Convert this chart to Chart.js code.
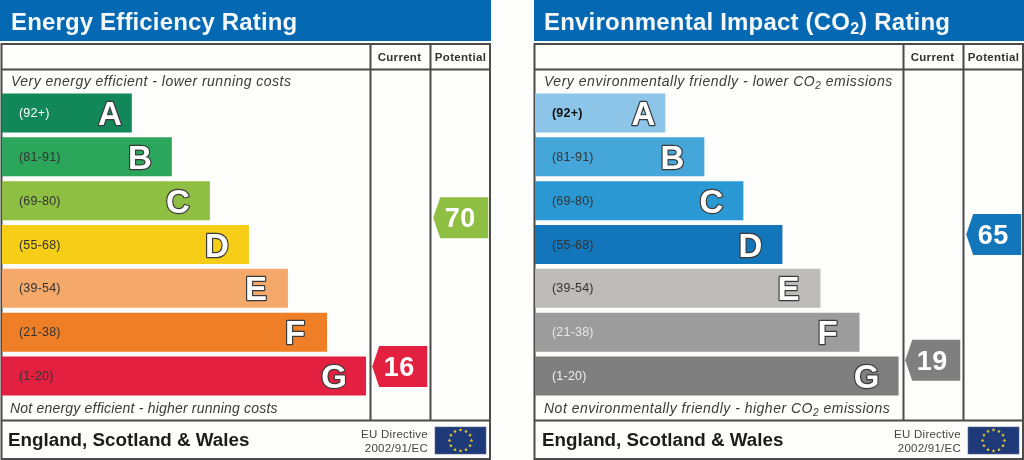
<!DOCTYPE html>
<html>
<head>
<meta charset="utf-8">
<title>EPC ratings</title>
<script src="https://cdn.jsdelivr.net/npm/chart.js@4/dist/chart.umd.min.js"></script>
<style>
  html, body { margin: 0; padding: 0; background: #fdfdfc; width: 1024px; height: 460px; overflow: hidden; }
  canvas { position: absolute; top: 0; }
  #energyChart { left: 0; }
  #enviroChart { left: 533px; }
</style>
</head>
<body>
<canvas id="energyChart" width="491" height="460"></canvas>
<canvas id="enviroChart" width="491" height="460"></canvas>
<script>
// Bands, top to bottom
const bands = ['A', 'B', 'C', 'D', 'E', 'F', 'G'];
const bandRanges = ['(92+)', '(81-91)', '(69-80)', '(55-68)', '(39-54)', '(21-38)', '(1-20)'];

// Bar lengths (percent of panel width)
const energyLengths = [26.6, 34.8, 42.6, 50.6, 58.6, 66.6, 74.6];
const enviroLengths = [26.7, 34.7, 42.7, 50.7, 58.5, 66.5, 74.5];

const energyColors = ['#12885a', '#2ba65b', '#8fbf42', '#f6ce17', '#f4a96b', '#ee7f26', '#e3203f'];
const enviroColors = ['#8cc5e8', '#45a6da', '#2a99d3', '#1376bb', '#bdbcba', '#9c9c9c', '#7f7f7f'];
const energyLabelColors = ['#ffffff', '#333333', '#333333', '#333333', '#333333', '#333333', '#333333'];
const enviroLabelColors = ['#111111', '#333333', '#333333', '#333333', '#333333', '#e6e6e6', '#eeeeee'];

// Current and potential scores
const energyScores = [16, 70];
const enviroScores = [19, 65];
const energyLevels = [0.22, 3.61]; // height on the band ladder, G = 0, A = 6
const enviroLevels = [0.36, 3.23];
const energyScoreColors = ['#e3203f', '#8fbf42'];
const enviroScoreColors = ['#7f7f7f', '#1376bb'];
const columnCentres = [81.5, 94];

const columnNames = ['Current', 'Potential'];

function drawText(ctx, text, x, y, font, color, align, spacing) {
  ctx.font = font;
  ctx.fillStyle = color;
  ctx.textAlign = align || 'left';
  ctx.textBaseline = 'alphabetic';
  ctx.letterSpacing = (spacing || 0) + 'px';
  ctx.fillText(text, x, y);
  ctx.letterSpacing = '0px';
}

// Draws text where "2" after CO goes subscript
function drawCO2Text(ctx, parts, x, y, font, subFont, color, spacing, subDrop) {
  let pos = x;
  parts.forEach((part, i) => {
    const sub = i % 2 === 1;
    ctx.font = sub ? subFont : font;
    ctx.letterSpacing = spacing + 'px';
    ctx.textAlign = 'left';
    ctx.fillStyle = color;
    ctx.fillText(part, pos, sub ? y + subDrop : y);
    pos += ctx.measureText(part).width;
  });
  ctx.letterSpacing = '0px';
}

function drawFlag(ctx) {
  ctx.fillStyle = '#1f3a78';
  ctx.fillRect(435, 427, 51, 27);
  ctx.strokeStyle = '#5a6a8c';
  ctx.lineWidth = 0.6;
  ctx.strokeRect(435, 427, 51, 27);
  ctx.fillStyle = '#f2d32a';
  for (let i = 0; i < 12; i++) {
    const a = i * Math.PI / 6;
    const cx = 460.5 + Math.cos(a) * 11;
    const cy = 440.5 + Math.sin(a) * 10.5;
    ctx.beginPath();
    for (let k = 0; k < 10; k++) {
      const r = k % 2 ? 0.8 : 2;
      const b = -Math.PI / 2 + k * Math.PI / 5;
      ctx.lineTo(cx + Math.cos(b) * r, cy + Math.sin(b) * r);
    }
    ctx.closePath();
    ctx.fill();
  }
}

function framePlugin(panel) {
  return {
    id: 'epcFrame',
    beforeDatasetsDraw(chart) {
      const ctx = chart.ctx;
      ctx.save();
      // header
      ctx.fillStyle = '#0568b2';
      ctx.fillRect(panel.headerX, 0, 491 - panel.headerX, 41);
      panel.drawHeader(ctx);

      // table lines
      ctx.strokeStyle = '#4b4b4b';
      ctx.lineWidth = 2;
      ctx.strokeRect(1.5, 44, 488.5, 415);
      ctx.beginPath();
      ctx.moveTo(1, 69.5); ctx.lineTo(490, 69.5);
      ctx.moveTo(1, 420.5); ctx.lineTo(490, 420.5);
      ctx.moveTo(370.5, 44); ctx.lineTo(370.5, 420.5);
      ctx.moveTo(430.5, 44); ctx.lineTo(430.5, 420.5);
      ctx.stroke();

      drawText(ctx, columnNames[0], 399.5, 61, 'bold 11.5px "Liberation Sans"', '#333333', 'center', 0.3);
      drawText(ctx, columnNames[1], 460.5, 61, 'bold 11.5px "Liberation Sans"', '#333333', 'center', 0.3);

      panel.drawNotes(ctx);

      drawText(ctx, 'England, Scotland & Wales', panel.footerX, 446, 'bold 18.8px "Liberation Sans"', '#1c1c1c', 'left', 0);
      drawText(ctx, 'EU Directive', 428, 438, '11.5px "Liberation Sans"', '#444444', 'right', 0.25);
      drawText(ctx, '2002/91/EC', 428, 452, '11.5px "Liberation Sans"', '#444444', 'right', 0.25);
      drawFlag(ctx);
      ctx.restore();
    },
    afterDatasetsDraw(chart) {
      const ctx = chart.ctx;
      ctx.save();
      // band labels and letters
      chart.getDatasetMeta(0).data.forEach((bar, i) => {
        const labelFont = (panel.boldFirst && i === 0 ? 'bold ' : '') + '12.5px "Liberation Sans"';
        drawText(ctx, bandRanges[i], 19, bar.y + 4, labelFont, panel.labelColors[i], 'left', 0.2);
        const letterX = bar.x - (i === 0 ? 22 : 32);
        ctx.font = 'bold 33px "Liberation Sans"';
        ctx.textAlign = 'center';
        ctx.textBaseline = 'alphabetic';
        ctx.lineJoin = 'round';
        ctx.lineWidth = 2.4;
        ctx.strokeStyle = '#3a3a3a';
        ctx.strokeText(bands[i], letterX, bar.y + 12);
        ctx.fillStyle = '#ffffff';
        ctx.fillText(bands[i], letterX, bar.y + 12);
      });
      // score arrows
      chart.getDatasetMeta(1).data.forEach((pt, i) => {
        const left = pt.x - 27.5, right = pt.x + 27.5;
        ctx.fillStyle = panel.scoreColors[i];
        ctx.beginPath();
        ctx.moveTo(left, pt.y);
        ctx.lineTo(left + 7, pt.y - 20.5);
        ctx.lineTo(right, pt.y - 20.5);
        ctx.lineTo(right, pt.y + 20.5);
        ctx.lineTo(left + 7, pt.y + 20.5);
        ctx.closePath();
        ctx.fill();
        drawText(ctx, String(panel.scores[i]), pt.x - 0.5, pt.y + 9.5, 'bold 27px "Liberation Sans"', '#ffffff', 'center', 0.5);
      });
      ctx.restore();
    }
  };
}

function makePanel(id, lengths, colors, scores, levels, panel) {
  panel.scores = scores;
  return new Chart(document.getElementById(id), {
    type: 'bar',
    data: {
      labels: bands,
      datasets: [
        {
          data: lengths,
          backgroundColor: colors,
          barPercentage: 1,
          categoryPercentage: 0.89,
          grouped: false,
          xAxisID: 'x',
          yAxisID: 'y'
        },
        {
          type: 'scatter',
          indexAxis: 'x',
          data: levels.map((level, i) => ({ x: columnCentres[i], y: level })),
          pointRadius: 0,
          xAxisID: 'x',
          yAxisID: 'yLevel'
        }
      ]
    },
    options: {
      indexAxis: 'y',
      responsive: false,
      animation: false,
      layout: { padding: { left: 2, right: 1, top: 91, bottom: 62 } },
      plugins: { legend: { display: false }, tooltip: { enabled: false } },
      scales: {
        x: { type: 'linear', min: 0, max: 100, display: false, offset: false },
        y: { type: 'category', display: false },
        yLevel: { type: 'linear', axis: 'y', min: -0.5, max: 6.5, display: false, offset: false }
      }
    },
    plugins: [framePlugin(panel)]
  });
}

makePanel('energyChart', energyLengths, energyColors, energyScores, energyLevels, {
  headerX: 0,
  footerX: 8,
  labelColors: energyLabelColors,
  scoreColors: energyScoreColors,
  boldFirst: false,
  drawHeader(ctx) {
    drawText(ctx, 'Energy Efficiency Rating', 11, 30, 'bold 24px "Liberation Sans"', '#f4f8fb', 'left', 0.15);
  },
  drawNotes(ctx) {
    drawText(ctx, 'Very energy efficient - lower running costs', 11, 86, 'italic 14px "Liberation Sans"', '#3a3a3a', 'left', 0.47);
    drawText(ctx, 'Not energy efficient - higher running costs', 10, 413, 'italic 14px "Liberation Sans"', '#3a3a3a', 'left', 0.2);
  }
});

makePanel('enviroChart', enviroLengths, enviroColors, enviroScores, enviroLevels, {
  headerX: 1,
  footerX: 9,
  labelColors: enviroLabelColors,
  scoreColors: enviroScoreColors,
  boldFirst: true,
  drawHeader(ctx) {
    drawCO2Text(ctx, ['Environmental Impact (CO', '2', ') Rating'], 11, 30,
      'bold 24px "Liberation Sans"', 'bold 16px "Liberation Sans"', '#f4f8fb', 0.2, 4);
  },
  drawNotes(ctx) {
    drawCO2Text(ctx, ['Very environmentally friendly - lower CO', '2', ' emissions'], 11, 86,
      'italic 14px "Liberation Sans"', 'italic 10px "Liberation Sans"', '#3a3a3a', 0.53, 3);
    drawCO2Text(ctx, ['Not environmentally friendly - higher CO', '2', ' emissions'], 11, 413,
      'italic 14px "Liberation Sans"', 'italic 10px "Liberation Sans"', '#3a3a3a', 0.5, 3);
  }
});
</script>
</body>
</html>
